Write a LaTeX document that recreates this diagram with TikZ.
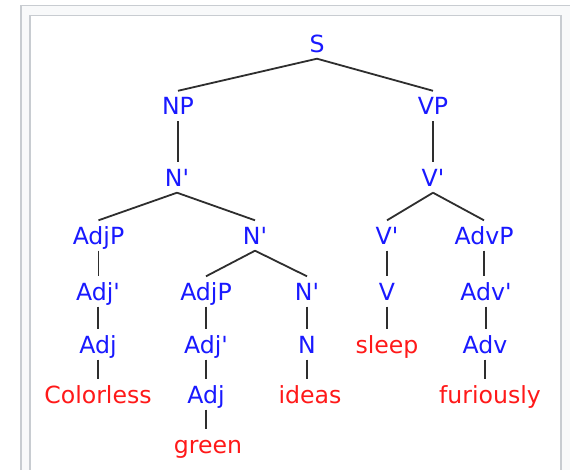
\documentclass[tikz,border=0pt]{standalone}
\usepackage{fontspec}
\setmainfont{DejaVu Sans}
\definecolor{catblue}{RGB}{25,25,255}
\definecolor{wordred}{RGB}{255,25,25}
\definecolor{framegray}{HTML}{C8CCD1}
\definecolor{framefill}{HTML}{F8F9FA}
\definecolor{edgegray}{HTML}{2E2E2E}
\tikzset{
  lbl/.style={anchor=base, inner xsep=0pt, inner ysep=6.5pt, text height=17pt, text depth=0pt,
    font=\fontsize{23.6}{28}\selectfont},
  cat/.style={lbl, text=catblue},
  word/.style={lbl, text=wordred},
  edge/.style={draw=edgegray, line width=1.8pt},
  framebox/.style={draw=framegray, line width=1.6pt}
}
\begin{document}
\begin{tikzpicture}[x=1pt,y=-1pt]
\useasboundingbox (0,0) rectangle (570,469);
\clip (0,0) rectangle (570,469);
\fill[white] (0,0) rectangle (570,469);
\draw[framebox, fill=framefill] (21,5.5) rectangle (600,500);
\draw[framebox, fill=white] (30,15.5) rectangle (561,500);

% row 0
\node[cat] (S) at (317,52) {S};
% row 1
\node[cat] (NP) at (178,114.5) {NP};
\node[cat] (VP) at (433,114.5) {VP};
% row 2
\node[cat] (Nb1) at (177,186) {N\textquotesingle};
\node[cat] (Vb1) at (433,186) {V\textquotesingle};
% row 3
\node[cat] (AdjP1) at (98.5,244) {AdjP};
\node[cat] (Nb2) at (255,244) {N\textquotesingle};
\node[cat] (Vb2) at (387,244) {V\textquotesingle};
\node[cat] (AdvP) at (484,244) {AdvP};
% row 4
\node[cat] (Adjb1) at (98,300) {Adj\textquotesingle};
\node[cat] (AdjP2) at (206,300) {AdjP};
\node[cat] (Nb3) at (307,300) {N\textquotesingle};
\node[cat] (V) at (387,300) {V};
\node[cat] (Advb) at (486,300) {Adv\textquotesingle};
% row 5
\node[cat] (Adj1) at (98,353) {Adj};
\node[cat] (Adjb2) at (206,353) {Adj\textquotesingle};
\node[cat] (N) at (307,353) {N};
\node[word] (sleep) at (387,353) {sleep};
\node[cat] (Adv) at (485,353) {Adv};
% row 6
\node[word] (colorless) at (98,403) {Colorless};
\node[cat] (Adj2) at (206,403) {Adj};
\node[word] (ideas) at (310,403) {ideas};
\node[word] (furiously) at (490,403) {furiously};
% row 7
\node[word] (green) at (208,453) {green};

% diagonal edges
\draw[edge] (S.south) -- (NP.north);
\draw[edge] (S.south) -- (VP.north);
\draw[edge] (Nb1.south) -- (AdjP1.north);
\draw[edge] (Nb1.south) -- (Nb2.north);
\draw[edge] (Vb1.south) -- (Vb2.north);
\draw[edge] (Vb1.south) -- (AdvP.north);
\draw[edge] (Nb2.south) -- (AdjP2.north);
\draw[edge] (Nb2.south) -- (Nb3.north);
% vertical edges
\draw[edge] (NP.south) -- (NP.south |- Nb1.north);
\draw[edge] (VP.south) -- (VP.south |- Vb1.north);
\draw[edge] (AdjP1.south) -- (AdjP1.south |- Adjb1.north);
\draw[edge] (Adjb1.south) -- (Adjb1.south |- Adj1.north);
\draw[edge] (Adj1.south) -- (Adj1.south |- colorless.north);
\draw[edge] (AdjP2.south) -- (AdjP2.south |- Adjb2.north);
\draw[edge] (Adjb2.south) -- (Adjb2.south |- Adj2.north);
\draw[edge] (Adj2.south) -- (Adj2.south |- green.north);
\draw[edge] (Nb3.south) -- (Nb3.south |- N.north);
\draw[edge] (N.south) -- (N.south |- ideas.north);
\draw[edge] (Vb2.south) -- (Vb2.south |- V.north);
\draw[edge] (V.south) -- (V.south |- sleep.north);
\draw[edge] (AdvP.south) -- (AdvP.south |- Advb.north);
\draw[edge] (Advb.south) -- (Advb.south |- Adv.north);
\draw[edge] (Adv.south) -- (Adv.south |- furiously.north);
\end{tikzpicture}
\end{document}
